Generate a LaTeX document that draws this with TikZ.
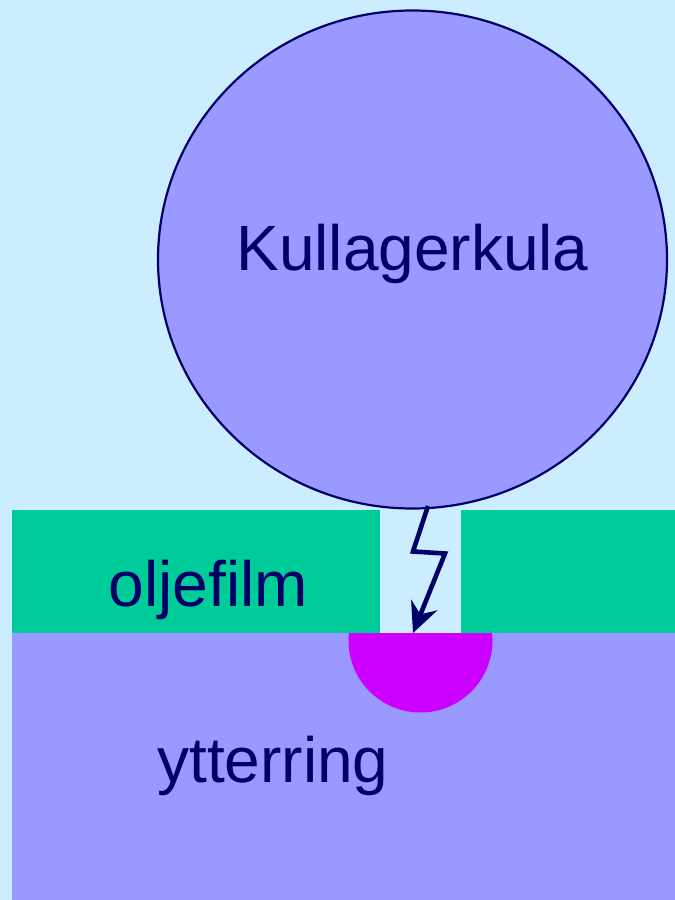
\documentclass[tikz,border=0pt]{standalone}
\usepackage{fontspec}
\usetikzlibrary{arrows.meta,shapes.geometric}
\setmainfont{Liberation Sans}
\definecolor{bgc}{RGB}{204,236,255}
\definecolor{ballc}{RGB}{153,153,255}
\definecolor{navy}{RGB}{0,0,102}
\definecolor{oilc}{RGB}{0,204,153}
\definecolor{magc}{RGB}{204,0,255}
\tikzset{lbl/.style={text=navy,font=\fontsize{64}{70}\selectfont,inner sep=0pt,anchor=base}}
\begin{document}
\begin{tikzpicture}[x=1pt,y=-1pt]
\useasboundingbox (0,0) rectangle (675,900);
\fill[bgc] (0,0) rectangle (675,900);
\fill[oilc] (12,510) rectangle (380,633);
\fill[oilc] (461,510) rectangle (675,633);
\fill[ballc] (12,633) rectangle (675,900);
\begin{scope}
\clip (340,633) rectangle (500,720);
\fill[magc] (420.5,640.5) circle[radius=72];
\end{scope}
\node[ellipse,draw=navy,line width=2.2pt,fill=ballc,minimum width=509pt,minimum height=498pt,inner sep=0pt] (ball) at (412.5,259.5) {};
\node[lbl] (k) at (412.5,270) {Kullagerkula};
\node[lbl] (o) at (208.5,606) {oljefilm};
\node[lbl] (y) at (273,782) {ytterring};
\coordinate (s) at (428,506);
\coordinate (a) at (413,551.5);
\coordinate (b) at (445,553.5);
\coordinate (e) at (413,633);
\draw[navy,line width=4.6pt,-{Stealth[length=30pt,width=28pt,inset=10pt]},line join=miter] (s) -- (a) -- (b) -- (e);
\end{tikzpicture}
\end{document}
